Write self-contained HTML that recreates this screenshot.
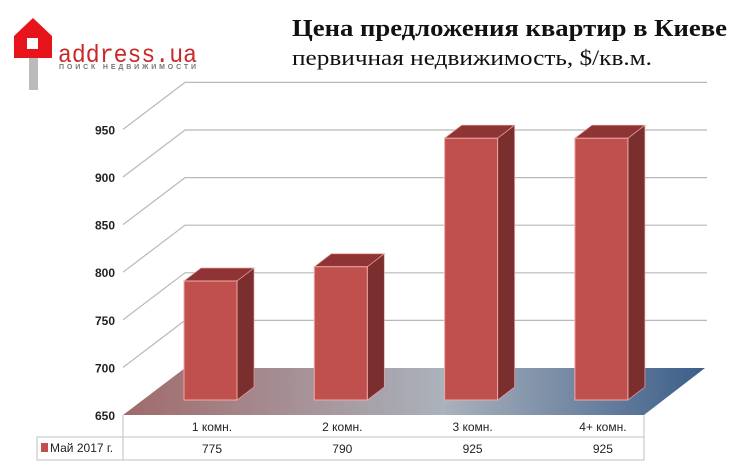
<!DOCTYPE html>
<html><head><meta charset="utf-8">
<style>
body{margin:0;background:#fff;width:738px;height:466px;overflow:hidden;font-family:"Liberation Sans",sans-serif}
svg{position:absolute;left:0;top:0}
</style></head><body>
<svg width="738" height="466" viewBox="0 0 738 466">
<defs>
<linearGradient id="fl" x1="0" y1="0" x2="1" y2="0">
<stop offset="0" stop-color="#a06a6a"/><stop offset="0.55" stop-color="#aab2bc"/><stop offset="1" stop-color="#3c5e8a"/>
</linearGradient>
</defs>
<g>
<path d="M14 36 L33 18 L52 36 L52 58 L14 58 Z" fill="#e8141c"/>
<rect x="27" y="38" width="11" height="11" fill="#fff"/>
<rect x="29" y="58" width="9" height="32" fill="#bbb"/>
<text x="58" y="62" font-family="Liberation Mono,monospace" font-size="25" textLength="139" lengthAdjust="spacingAndGlyphs" fill="#c8282a">address.ua</text>
<text x="59" y="69" font-size="7" font-weight="bold" textLength="137" lengthAdjust="spacing" fill="#777">ПОИСК НЕДВИЖИМОСТИ</text>
</g>
<text x="292" y="36" font-family="Liberation Serif,serif" font-weight="bold" font-size="24" textLength="435" lengthAdjust="spacingAndGlyphs" fill="#111">Цена предложения квартир в Киеве</text>
<text x="292" y="65" font-family="Liberation Serif,serif" font-size="22" textLength="360" lengthAdjust="spacingAndGlyphs" fill="#111">первичная недвижимость, $/кв.м.</text>
<g id="grid"></g>
<polygon points="123,415 185,368 705,368 644,415" fill="url(#fl)"/>
<g id="bars"></g>
<g id="table"></g>
</svg>
<script>
const categories=["1 комн.","2 комн.","3 комн.","4+ комн."];
const values=[775,790,925,925];
const ticks=[650,700,750,800,850,900,950];
const seriesName="Май 2017 г.";
const NS="http://www.w3.org/2000/svg";
function mk(t,a,p){const e=document.createElementNS(NS,t);for(const k in a)e.setAttribute(k,a[k]);p.appendChild(e);return e;}
const yBack=v=>368-(v-650)*0.952;
const yBar=v=>400-(v-650)*0.952;
const xBar=i=>184+i*130.3;
const grid=document.getElementById('grid');
ticks.forEach(t=>{
 const yb=yBack(t),yf=yb+47;
 if(t>650){const l=mk('polyline',{points:`123,${yf} 185,${yb} 707,${yb}`,fill:'none',stroke:'#b8b8b8','stroke-width':1.2},grid);
 
 }
 const tx=mk('text',{x:115,y:yf+5,'text-anchor':'end','font-size':12,'font-weight':'bold',fill:'#222'},grid);
 tx.textContent=t;
 
 
});
const bars=document.getElementById('bars');
values.forEach((v,i)=>{
 const x=xBar(i),w=53,top=yBar(v),bot=400,dx=17,dy=13;
 const g=mk('g',{},bars);
 
 
 mk('polygon',{points:`${x+w},${top} ${x+w+dx},${top-dy} ${x+w+dx},${bot-dy} ${x+w},${bot}`,fill:'#7a2e2e',stroke:'#e8a0a0','stroke-width':0.7},g);
 mk('polygon',{points:`${x},${top} ${x+dx},${top-dy} ${x+w+dx},${top-dy} ${x+w},${top}`,fill:'#8e3434',stroke:'#e8a0a0','stroke-width':0.7},g);
 mk('rect',{x:x,y:top,width:w,height:bot-top,fill:'#c0504d',stroke:'#f0a8a8','stroke-width':1},g);
});
const tb=document.getElementById('table');
mk('polyline',{points:'123,415 123,460 644,460 644,415',fill:'none',stroke:'#c0c0c0'},tb);
mk('rect',{x:37,y:437,width:607,height:23,fill:'none',stroke:'#c0c0c0'},tb);
mk('line',{x1:123,y1:437,x2:123,y2:460,stroke:'#c0c0c0'},tb);
const sw=mk('rect',{x:41,y:443,width:7,height:9,fill:'#c0504d'},tb);


const lt=mk('text',{x:50,y:452,'font-size':12,fill:'#222'},tb);
lt.textContent=seriesName;


categories.forEach((c,i)=>{
 const cx=xBar(i)+26+2;
 const t=mk('text',{x:cx,y:431,'text-anchor':'middle','font-size':12,fill:'#222'},tb);
 t.textContent=c;
 
 
 const v=mk('text',{x:cx,y:453,'text-anchor':'middle','font-size':12,fill:'#222'},tb);
 v.textContent=values[i];
 
 
});
</script>
</body></html>
